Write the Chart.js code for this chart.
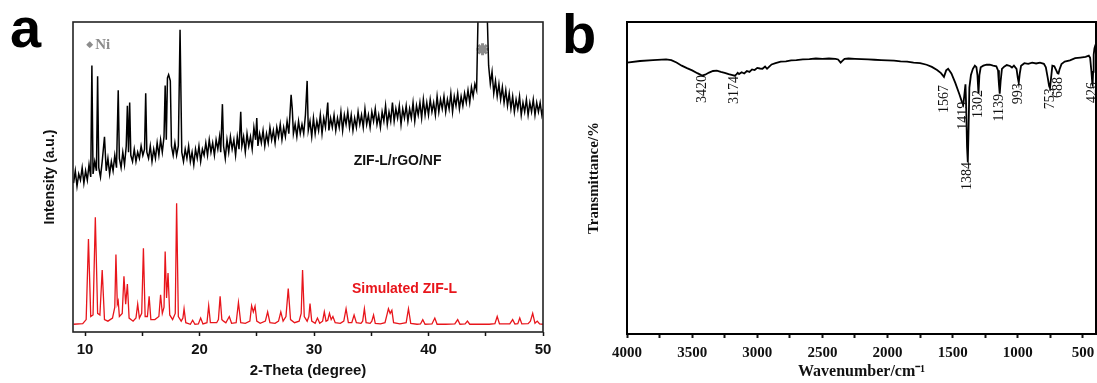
<!DOCTYPE html>
<html>
<head>
<meta charset="utf-8">
<script src="https://cdn.jsdelivr.net/npm/chart.js@4"></script>
<style>
  html, body { margin: 0; padding: 0; background: #fff; }
  body { width: 1097px; height: 383px; position: relative; overflow: hidden; }
  .panel { position: absolute; top: 0; }
  .tag { position: absolute; font: bold 56px "Liberation Sans", Arial, sans-serif; line-height: 1; color: #000; }
</style>
</head>
<body>
<div class="tag" style="left:10px;top:0px">a</div>
<div class="tag" style="left:562px;top:6px">b</div>
<canvas id="xrd" class="panel" width="560" height="383" style="left:0"></canvas>
<canvas id="ftir" class="panel" width="537" height="383" style="left:560px"></canvas>
<script>
// panel a: XRD, 2-theta vs intensity (a.u., 0-100 of the frame height)
const xrdTicks = [10, 15, 20, 25, 30, 35, 40, 45, 50];

const xrdMeasured = [
  [9.0,48],[9.15,52],[9.3,47],[9.45,51],[9.6,49],[9.75,53],[9.9,48],[10.05,52],[10.2,49],[10.35,54],
  [10.5,50],[10.6,86],[10.7,51],[10.85,55],[11.0,52],[11.1,82.5],[11.2,53],[11.35,50],[11.5,55],[11.7,63],
  [11.85,52],[12.0,56],[12.15,51],[12.3,55],[12.45,52],[12.6,57],[12.75,53],[12.9,78],[13.0,56],[13.15,53],
  [13.3,58],[13.45,54],[13.6,60],[13.7,73],[13.8,58],[13.9,74],[14.0,57],[14.15,55],[14.3,59],[14.45,55],
  [14.6,58],[14.75,56],[14.9,60],[15.05,57],[15.2,59],[15.3,77],[15.4,58],[15.55,56],[15.7,60],[15.85,55],
  [16.0,59],[16.15,56],[16.3,61],[16.45,57],[16.6,62],[16.75,58],[16.9,63],[17.0,79.5],[17.1,62],[17.2,82],
  [17.3,83],[17.45,81],[17.55,60],[17.7,57],[17.85,61],[18.0,57],[18.15,60],[18.3,97.5],[18.45,58],[18.6,55],
  [18.75,59],[18.9,56],[19.05,60],[19.2,55],[19.35,58],[19.5,54],[19.65,59],[19.8,56],[19.95,60],[20.1,55],
  [20.25,59],[20.4,57],[20.55,61],[20.7,57],[20.85,62],[21.0,58],[21.15,61],[21.3,57],[21.45,62],[21.6,59],
  [21.75,63],[21.85,58],[22.0,73.5],[22.1,60],[22.25,56],[22.4,62],[22.55,58],[22.7,63],[22.85,59],[23.0,62],
  [23.15,57],[23.3,63],[23.45,59],[23.6,71],[23.7,60],[23.85,63],[24.0,58],[24.15,64],[24.3,60],[24.45,63],
  [24.6,59],[24.75,66],[24.9,62],[25.0,69],[25.1,60],[25.25,64],[25.4,61],[25.55,65],[25.7,60],[25.85,64],
  [26.0,61],[26.15,66],[26.3,62],[26.45,65],[26.6,61],[26.75,66],[26.9,63],[27.05,67],[27.2,62],[27.35,66],
  [27.5,63],[27.65,68],[27.8,64],[28.0,76.5],[28.1,72],[28.2,64],[28.35,67],[28.5,63],[28.65,68],[28.8,64],
  [28.95,67],[29.1,64],[29.25,70],[29.4,81],[29.5,65],[29.65,68],[29.8,63],[29.95,69],[30.1,64],[30.25,68],
  [30.4,65],[30.55,70],[30.7,64],[30.85,69],[31.0,66],[31.2,74],[31.3,65],[31.45,69],[31.6,66],[31.75,70],
  [31.9,65],[32.05,69],[32.2,66],[32.35,71],[32.5,65],[32.65,70],[32.8,67],[32.95,71],[33.1,66],[33.25,70],
  [33.4,65],[33.55,69],[33.7,66],[33.85,71],[34.0,67],[34.15,70],[34.3,66],[34.45,72],[34.6,67],[34.75,70],
  [34.9,66],[35.05,71],[35.2,68],[35.35,72],[35.5,67],[35.65,70],[35.8,66],[35.95,71],[36.1,68],[36.25,73],
  [36.4,67],[36.55,71],[36.7,68],[36.85,74],[37.0,68],[37.15,72],[37.3,69],[37.45,73],[37.6,67],[37.75,72],
  [37.9,69],[38.05,73],[38.2,68],[38.35,72],[38.5,69],[38.65,74],[38.8,68],[38.95,73],[39.1,70],[39.25,74],
  [39.4,69],[39.55,75],[39.7,70],[39.85,74],[40.0,70],[40.15,75],[40.3,71],[40.45,74],[40.6,70],[40.75,76],
  [40.9,71],[41.05,75],[41.2,72],[41.35,76],[41.5,71],[41.65,75],[41.8,72],[41.95,77],[42.1,71],[42.25,76],
  [42.4,73],[42.55,77],[42.7,72],[42.85,76],[43.0,73],[43.15,77],[43.3,74],[43.45,78],[43.6,74],[43.75,79],
  [43.9,76],[44.05,80],[44.2,78],[44.35,106],[45.1,106],[45.25,86],[45.4,80],[45.55,84],[45.7,77],[45.85,81],
  [46.0,76],[46.15,80],[46.3,75],[46.45,79],[46.6,74],[46.75,78],[46.9,73],[47.05,77],[47.2,72],[47.35,76],
  [47.5,71],[47.65,75],[47.8,72],[47.95,76],[48.1,70],[48.25,74],[48.4,71],[48.55,75],[48.7,70],[48.85,74],
  [49.0,71],[49.15,75],[49.3,70],[49.45,74],[49.6,71],[49.75,74],[49.9,70],[50.0,72]
];

const xrdSimulated = [
  [9.0,2.5],[9.8,2.7],[10.1,4],[10.3,30],[10.5,5],[10.7,5.5],[10.9,37],[11.1,6],[11.3,5.5],[11.5,20],
  [11.7,4],[12.0,3.5],[12.4,4.5],[12.6,8],[12.7,25],[12.82,9],[12.9,10],[13.0,5],[13.25,6],[13.4,18],
  [13.55,9],[13.7,15.5],[13.85,4.5],[14.2,3.5],[14.45,4.5],[14.6,9],[14.75,4.5],[14.95,6],[15.1,27],[15.25,5],
  [15.45,5],[15.6,11.5],[15.75,4],[16.1,4],[16.45,5],[16.6,12],[16.75,6],[16.9,8],[17.0,26],[17.12,11],
  [17.25,19],[17.4,5.5],[17.65,4],[17.88,6],[18.0,41.5],[18.15,5],[18.4,3.5],[18.55,4.5],[18.65,7.5],[18.8,3],
  [19.2,2.5],[19.4,3.8],[19.6,2.5],[19.9,2.6],[20.1,4.5],[20.3,2.6],[20.65,3],[20.8,8.5],[20.95,3],[21.5,3],
  [21.65,4],[21.8,11.5],[21.95,4],[22.1,3.5],[22.3,3],[22.6,5],[22.8,2.8],[23.2,3],[23.4,9.5],[23.6,3],
  [24.0,2.8],[24.4,3.5],[24.55,8.5],[24.7,6.5],[24.85,8.3],[25.0,3.5],[25.3,2.8],[25.75,3.5],[25.95,6.5],[26.15,3],
  [26.6,2.8],[26.9,3.5],[27.1,6.5],[27.3,3.5],[27.55,5],[27.75,14],[27.95,4],[28.3,3],[28.7,3.5],[28.88,6],
  [29.0,20],[29.15,5],[29.4,3.5],[29.55,5],[29.65,9.2],[29.8,3.5],[30.1,2.8],[30.3,4.5],[30.5,2.8],[30.75,3.5],
  [30.9,6.5],[31.05,3.5],[31.2,3.8],[31.35,6],[31.5,4],[31.65,5],[31.85,3],[32.3,2.8],[32.6,3.5],[32.8,7.5],
  [33.0,3],[33.3,3],[33.5,5.5],[33.7,3],[34.1,2.8],[34.25,3.5],[34.4,7.5],[34.55,3],[34.9,2.8],[35.05,3.5],
  [35.2,5.5],[35.35,2.8],[35.8,2.6],[36.2,3],[36.4,6],[36.5,7.5],[36.65,6],[36.8,7],[36.95,3],[37.5,2.6],
  [38.05,3],[38.25,7.5],[38.45,2.8],[39.0,2.5],[39.3,2.6],[39.5,4],[39.7,2.5],[40.3,2.6],[40.55,4.5],[40.75,2.5],
  [41.5,2.5],[42.3,2.6],[42.55,4],[42.75,2.5],[43.2,2.6],[43.4,3.5],[43.6,2.5],[44.5,2.5],[45.3,2.5],[45.8,2.7],
  [46.0,5],[46.2,2.6],[47.1,2.6],[47.35,4],[47.55,2.6],[47.8,2.7],[47.97,4.5],[48.15,2.6],[48.7,2.7],[48.9,3.5],
  [49.1,6],[49.3,2.8],[49.5,3.5],[49.7,2.6],[50.0,2.5]
];

const niMarker = [[44.72, 91.2]];
const xrdTexts = ['ZIF-L/rGO/NF', 'Simulated ZIF-L'];
const xrdTextX = [37.3, 37.9];
const xrdTextY = [55.2, 13.9];

// panel b: FTIR, wavenumber vs transmittance (0-100 of the frame height)
const ftirTicks = [500, 750, 1000, 1250, 1500, 1750, 2000, 2250, 2500, 2750, 3000, 3250, 3500, 3750, 4000];

const ftirSpectrum = [
  [4000,87.0],[3900,87.5],[3800,87.8],[3700,88.0],[3660,87.8],[3620,87.0],[3580,86.0],[3540,85.2],[3500,84.5],[3460,83.6],
  [3430,83.0],[3420,82.9],[3400,83.1],[3370,83.8],[3340,84.3],[3310,84.4],[3280,84.0],[3250,83.7],[3220,83.3],[3190,83.0],
  [3174,82.8],[3160,83.2],[3150,83.7],[3140,83.3],[3120,83.9],[3100,83.5],[3080,84.3],[3060,84.0],[3040,84.8],[3020,84.6],
  [3000,85.3],[2980,85.1],[2960,85.0],[2940,85.7],[2925,85.0],[2910,85.6],[2890,86.4],[2860,86.8],[2820,87.3],[2780,87.4],
  [2740,87.7],[2700,87.8],[2650,88.0],[2600,88.1],[2550,88.3],[2500,88.2],[2450,88.3],[2400,88.2],[2380,88.0],[2360,87.0],
  [2345,87.6],[2330,88.2],[2300,88.3],[2250,88.2],[2200,88.1],[2150,88.0],[2100,87.9],[2050,87.8],[2000,87.7],[1950,87.6],
  [1900,87.4],[1850,87.3],[1800,87.0],[1750,86.8],[1700,86.3],[1660,85.6],[1620,84.6],[1590,83.6],[1567,82.4],[1550,84.5],
  [1535,85.0],[1510,83.5],[1480,80.5],[1450,77.0],[1430,74.5],[1419,73.5],[1412,76.0],[1402,80.0],[1396,72.0],[1390,60.0],
  [1384,55.0],[1378,66.0],[1372,79.0],[1360,83.0],[1345,85.0],[1330,86.0],[1318,85.5],[1310,83.0],[1302,77.0],[1295,83.0],
  [1285,85.5],[1265,86.0],[1240,86.3],[1215,86.3],[1190,86.0],[1165,85.8],[1152,84.5],[1145,80.0],[1139,77.0],[1132,81.0],
  [1122,85.0],[1105,85.7],[1085,86.2],[1060,85.9],[1045,85.4],[1030,86.0],[1010,85.0],[1000,82.0],[993,80.5],[985,83.5],
  [975,86.0],[950,86.8],[920,86.6],[890,87.0],[860,86.7],[830,87.0],[800,86.6],[785,85.5],[770,82.0],[760,79.5],
  [753,78.8],[745,82.0],[735,86.0],[720,85.8],[705,84.5],[695,83.6],[688,83.5],[680,84.8],[665,86.5],[640,87.3],
  [600,87.7],[560,88.4],[520,88.6],[480,88.8],[455,89.2],[445,88.5],[435,84.0],[428,80.0],[426,79.8],[422,84.0],
  [418,89.5],[412,91.5],[405,92.5],[400,93.0]
];

const peakLabels = ['3420', '3174', '1567', '1419', '1384', '1302', '1139', '993', '753', '688', '426'];
const peakWn = [3420, 3174, 1567, 1419, 1384, 1302, 1139, 993, 753, 688, 426];
const peakTextTop = [83.0, 82.7, 79.8, 74.4, 55.1, 78.2, 76.9, 80.4, 78.8, 82.4, 80.8];

Chart.defaults.animation = false;
Chart.defaults.color = '#111';

const boxPlugin = {
  id: 'box',
  afterDraw(chart, args, opts) {
    const { ctx, chartArea: a } = chart;
    ctx.save();
    ctx.strokeStyle = opts.color;
    ctx.lineWidth = opts.width;
    ctx.strokeRect(a.left, a.top, a.right - a.left, a.bottom - a.top);
    ctx.restore();
  }
};

const xrdNotes = {
  id: 'xrdNotes',
  afterDatasetsDraw(chart) {
    const { ctx, scales: { x, y } } = chart;
    ctx.save();
    ctx.textAlign = 'center';
    ctx.textBaseline = 'middle';
    ctx.font = 'bold 14px "Liberation Sans", Arial, sans-serif';
    xrdTexts.forEach((t, i) => {
      ctx.fillStyle = i === 0 ? '#111' : '#e8151b';
      ctx.fillText(t, x.getPixelForValue(xrdTextX[i]), y.getPixelForValue(xrdTextY[i]));
    });
    // "◆Ni" key, top left
    const kx = x.getPixelForValue(10.1), ky = y.getPixelForValue(92.6);
    ctx.fillStyle = '#8c8c8c';
    ctx.textAlign = 'left';
    ctx.font = '9px "DejaVu Sans", sans-serif';
    ctx.fillText('◆', kx, ky);
    ctx.font = 'bold 15px "Liberation Serif", serif';
    ctx.fillText('Ni', kx + 9, ky);
    ctx.restore();
  }
};

const ftirNotes = {
  id: 'ftirNotes',
  afterDatasetsDraw(chart) {
    const { ctx, scales: { x, y } } = chart;
    ctx.save();
    ctx.fillStyle = '#111';
    ctx.font = '14px "Liberation Serif", serif';
    ctx.textAlign = 'right';
    ctx.textBaseline = 'middle';
    peakLabels.forEach((t, i) => {
      ctx.save();
      ctx.translate(x.getPixelForValue(peakWn[i]), y.getPixelForValue(peakTextTop[i]));
      ctx.rotate(-Math.PI / 2);
      ctx.fillText(t, 0, 0);
      ctx.restore();
    });
    ctx.restore();
  }
};

function xyData(rows) {
  return rows.map(([x, y]) => ({ x, y }));
}

const sans = '"Liberation Sans", Arial, sans-serif';
const serif = '"Liberation Serif", "Times New Roman", serif';

new Chart(document.getElementById('xrd'), {
  type: 'line',
  data: {
    datasets: [
      { data: xyData(xrdMeasured), borderColor: '#000', borderWidth: 1.5, pointRadius: 0, tension: 0 },
      { data: xyData(xrdSimulated), borderColor: '#e8151b', borderWidth: 1.3, pointRadius: 0, tension: 0 },
      { data: xyData(niMarker), showLine: false, pointStyle: 'star', pointRadius: 6,
        borderColor: '#8c8c8c', backgroundColor: '#8c8c8c', pointBorderWidth: 3 }
    ]
  },
  options: {
    responsive: false,
    layout: { padding: { left: 0, top: 22, right: 17, bottom: 0 } },
    plugins: { legend: { display: false }, tooltip: { enabled: false }, box: { color: '#222', width: 1.6 } },
    scales: {
      x: {
        type: 'linear', min: 8.95, max: 50,
        afterBuildTicks: s => { s.ticks = xrdTicks.map(v => ({ value: v })); },
        afterFit: s => { s.height = 51; },
        ticks: {
          callback: v => (v % 10 === 0 ? v : ''),
          font: { family: sans, weight: 'bold', size: 15 }, color: '#111', padding: 5, maxRotation: 0
        },
        grid: { drawOnChartArea: false, tickLength: 4, tickWidth: 1.5, tickColor: '#111' },
        border: { display: false },
        title: { display: true, text: '2-Theta (degree)', font: { family: sans, weight: 'bold', size: 15 },
          color: '#111', padding: { top: 0, bottom: 3 } }
      },
      y: {
        min: 0, max: 100,
        afterFit: s => { s.width = 73; },
        ticks: { display: false },
        grid: { display: false },
        border: { display: false },
        title: { display: true, text: 'Intensity (a.u.)', font: { family: sans, weight: 'bold', size: 14 },
          color: '#111', padding: { top: 42, bottom: 0 } }
      }
    }
  },
  plugins: [boxPlugin, xrdNotes]
});

new Chart(document.getElementById('ftir'), {
  type: 'line',
  data: {
    datasets: [
      { data: xyData(ftirSpectrum), borderColor: '#000', borderWidth: 1.8, pointRadius: 0, tension: 0 }
    ]
  },
  options: {
    responsive: false,
    layout: { padding: { left: 0, top: 22, right: 1, bottom: 0 } },
    plugins: { legend: { display: false }, tooltip: { enabled: false }, box: { color: '#000', width: 2 } },
    scales: {
      x: {
        type: 'linear', min: 400, max: 4000, reverse: true,
        afterBuildTicks: s => { s.ticks = ftirTicks.map(v => ({ value: v })); },
        afterFit: s => { s.height = 49; },
        ticks: {
          callback: v => (v % 500 === 0 ? v : ''),
          font: { family: serif, weight: 'bold', size: 15 }, color: '#111', padding: 6, maxRotation: 0
        },
        grid: { drawOnChartArea: false, tickLength: 4, tickWidth: 2, tickColor: '#111' },
        border: { display: false },
        title: { display: true, text: 'Wavenumber/cm⁻¹', font: { family: serif, weight: 'bold', size: 16 },
          color: '#111', padding: { top: 0, bottom: 2 } }
      },
      y: {
        min: 0, max: 100,
        afterFit: s => { s.width = 67; },
        ticks: { display: false },
        grid: { display: false },
        border: { display: false },
        title: { display: true, text: 'Transmittance/%', font: { family: serif, weight: 'bold', size: 15 },
          color: '#111', padding: { top: 25, bottom: 0 } }
      }
    }
  },
  plugins: [boxPlugin, ftirNotes]
});
</script>
</body>
</html>
